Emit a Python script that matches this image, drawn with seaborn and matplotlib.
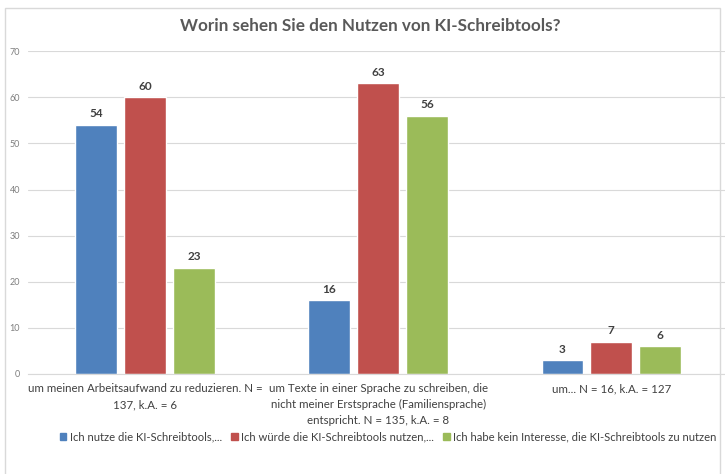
import pandas as pd
import matplotlib.pyplot as plt
import matplotlib.patches as mpatches
import seaborn as sns

# chart data
categories = [
    "um meinen Arbeitsaufwand zu reduzieren. N =\n137, k.A. = 6",
    "um Texte in einer Sprache zu schreiben, die\nnicht meiner Erstsprache (Familiensprache)\nentspricht. N = 135, k.A. = 8",
    "um... N = 16, k.A. = 127",
]
series = [
    "Ich nutze die KI-Schreibtools,...",
    "Ich würde die KI-Schreibtools nutzen,...",
    "Ich habe kein Interesse, die KI-Schreibtools zu nutzen",
]
nutze = [54, 16, 3]
wuerde = [60, 63, 7]
kein_interesse = [23, 56, 6]
colors = ["#4F81BD", "#C0504D", "#9BBB59"]

rows = []
for s, vals in zip(series, [nutze, wuerde, kein_interesse]):
    for c, v in zip(categories, vals):
        rows.append({"Kategorie": c, "Gruppe": s, "Wert": v})
df = pd.DataFrame(rows)

sns.set_style("white")
plt.rcParams["font.family"] = ["Lato", "DejaVu Sans"]

fig = plt.figure(figsize=(7.25, 4.74), dpi=100)
ax = fig.add_axes([0.039, 0.211, 0.965, 0.681])

sns.barplot(data=df, x="Kategorie", y="Wert", hue="Gruppe", palette=colors,
            width=0.63, gap=0.15, ax=ax, legend=False, saturation=1)

for cont in ax.containers:
    ax.bar_label(cont, padding=4, fontsize=8.5, fontweight="bold", color="#404040")

ax.set_ylim(0, 70)
ax.set_yticks(range(0, 71, 10))
ax.tick_params(axis="y", labelsize=6.5, labelcolor="#7f7f7f", length=0, pad=6)
ax.tick_params(axis="x", length=0)
ax.set_xticks(range(len(categories)))
ax.set_xticklabels([""] * len(categories))
# category labels with wider line spacing, like the original
for i, cat in enumerate(categories):
    ax.text(i, -0.028, cat, transform=ax.get_xaxis_transform(), ha="center",
            va="top", fontsize=8.3, color="#404040", linespacing=1.55)
ax.yaxis.grid(True, color="#d9d9d9", linewidth=0.8)
ax.set_axisbelow(True)
for side in ["left", "right", "top"]:
    ax.spines[side].set_visible(False)
ax.spines["bottom"].set_color("#d9d9d9")
ax.set_xlabel("")
ax.set_ylabel("")

fig.suptitle("Worin sehen Sie den Nutzen von KI-Schreibtools?", x=0.51, y=0.962,
             fontsize=12.3, fontweight="bold", color="#595959")

handles = [mpatches.Patch(color=c, label=s) for c, s in zip(colors, series)]
fig.legend(handles=handles, loc="center", bbox_to_anchor=(0.535, 0.078), ncol=3,
           frameon=False, fontsize=8.1, handlelength=0.6, handleheight=0.6,
           handletextpad=0.3, columnspacing=0.8, labelcolor="#404040")

# outer chart frame
fig.patches.append(mpatches.Rectangle((0.007, -0.01), 0.986, 0.993,
                                      transform=fig.transFigure, fill=False,
                                      edgecolor="#d9d9d9", linewidth=1))

fig.savefig("out.png", dpi=100)
